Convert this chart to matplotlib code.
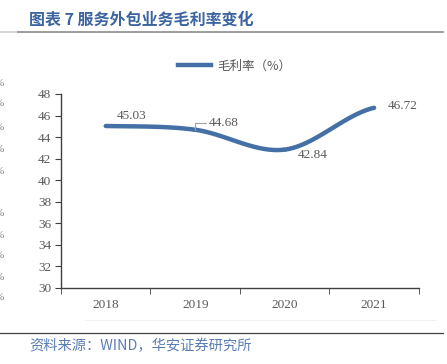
import numpy as np
import matplotlib
matplotlib.use("Agg")
import matplotlib.pyplot as plt
from matplotlib.lines import Line2D

plt.rcParams['font.family'] = ['Noto Sans CJK SC', 'DejaVu Sans']

years = ["2018", "2019", "2020", "2021"]
margin = [45.03, 44.68, 42.84, 46.72]
yticks = [30, 32, 34, 36, 38, 40, 42, 44, 46, 48]

BLUE = "#4470a6"
GRAY = "#595959"
TITLE_BLUE = "#3c64a0"


def smooth(xs, ys, n=40):
    # Catmull-Rom style curve through the points, only for drawing
    xs = np.asarray(xs, float)
    ys = np.asarray(ys, float)
    px = np.concatenate([[2 * xs[0] - xs[1]], xs, [2 * xs[-1] - xs[-2]]])
    py = np.concatenate([[ys[0]], ys, [ys[-1]]])
    out_x, out_y = [], []
    for i in range(1, len(px) - 2):
        t = np.linspace(0, 1, n)
        for p, out in ((px, out_x), (py, out_y)):
            p0, p1, p2, p3 = p[i - 1], p[i], p[i + 1], p[i + 2]
            out.extend(0.5 * ((2 * p1) + (-p0 + p2) * t
                              + (2 * p0 - 5 * p1 + 4 * p2 - p3) * t ** 2
                              + (-p0 + 3 * p1 - 3 * p2 + p3) * t ** 3))
    return np.array(out_x), np.array(out_y)


def main():
    fig = plt.figure(figsize=(4.47, 3.64), dpi=100)
    ax = fig.add_axes([0.1365, 0.2088, 0.8005, 0.533])

    x = np.arange(len(years))
    sx, sy = smooth(x, margin)
    ax.plot(sx, sy, color=BLUE, lw=3.2, solid_capstyle="round")

    ax.set_xlim(-0.5, len(years) - 0.5)
    ax.set_ylim(30, 48)
    ax.set_yticks(yticks)
    ax.set_xticks(x)
    ax.set_xticklabels(years)
    ax.set_xticks(np.arange(-0.5, len(years), 1), minor=True)
    ax.tick_params(axis="x", which="major", length=0, pad=8)
    ax.tick_params(axis="x", which="minor", length=4, color="#404040")
    ax.tick_params(axis="y", length=4, color="#404040", pad=3)
    for lab in ax.get_xticklabels() + ax.get_yticklabels():
        lab.set_family("Liberation Serif")
        lab.set_color(GRAY)
        lab.set_fontsize(9.5)
    for s in ("top", "right"):
        ax.spines[s].set_visible(False)
    for s in ("left", "bottom"):
        ax.spines[s].set_color("#404040")
        ax.spines[s].set_linewidth(1.0)

    # data labels
    lab_kw = dict(family="Liberation Serif", color=GRAY, fontsize=9.5)
    ax.text(x[0] + 0.29, margin[0] + 0.93, f"{margin[0]:.2f}", ha="center",
            va="center", **lab_kw)
    ax.annotate(f"{margin[1]:.2f}", xy=(x[1], margin[1]),
                xytext=(x[1] + 0.15, margin[1] + 0.62), ha="left",
                va="center", **lab_kw,
                arrowprops=dict(arrowstyle="-", color="#a0a0a0", lw=0.8,
                                connectionstyle="angle,angleA=0,angleB=90,rad=0",
                                shrinkA=0, shrinkB=0))
    ax.text(x[2] + 0.15, margin[2] + 0.05, f"{margin[2]:.2f}", ha="left",
            va="top", **lab_kw)
    ax.text(x[3] + 0.15, margin[3] + 0.2, f"{margin[3]:.2f}", ha="left",
            va="center", **lab_kw)

    handle = Line2D([], [], color=BLUE, lw=3.2)
    leg = fig.legend([handle], ["毛利率（%）"], loc="center",
                     bbox_to_anchor=(0.525, 0.818), frameon=False,
                     handlelength=2.6, handletextpad=0.5,
                     prop={"family": "Noto Sans CJK SC", "size": 9})
    for t in leg.get_texts():
        t.set_color(GRAY)

    # header and footer
    fig.text(0.065, 0.945, "图表 7 服务外包业务毛利率变化", color=TITLE_BLUE,
             fontsize=11.5, fontweight="bold", va="center")
    fig.add_artist(Line2D([0.0, 0.04], [0.912, 0.912], color="#d0d0d0",
                          lw=1.2))
    fig.add_artist(Line2D([0.04, 0.99], [0.912, 0.912], color="#8c8c8c",
                          lw=1.2))
    fig.add_artist(Line2D([0.19, 0.975], [0.12, 0.12], color="#f2f2f2",
                          lw=0.8))
    fig.add_artist(Line2D([0.0, 0.99], [0.085, 0.085], color="#404040",
                          lw=0.9))
    fig.text(0.065, 0.05, "资料来源：WIND，华安证券研究所", color="#5a7db5",
             fontsize=10.3, va="center")

    # clipped fragments from the neighbouring chart at the left edge
    for yy in [84, 104, 127, 149, 171, 213, 235, 256, 278, 298]:
        fig.text(-0.012, 1 - yy / 364, "%", color="#7f7f7f", fontsize=8,
                 family="Liberation Serif", va="center")

    fig.savefig("out.png", dpi=100)


if __name__ == "__main__":
    main()
